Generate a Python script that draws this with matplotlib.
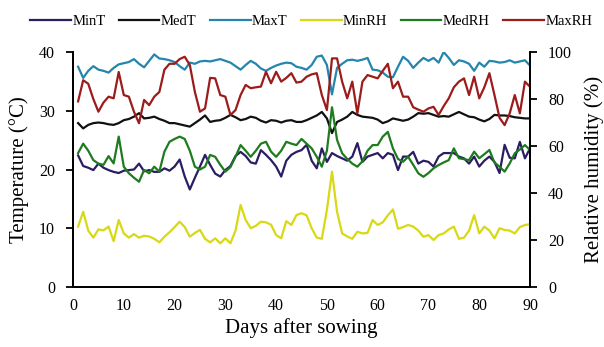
import matplotlib
matplotlib.use("Agg")
import matplotlib.pyplot as plt
import numpy as np

plt.rcParams['font.family'] = ['Liberation Serif', 'DejaVu Serif']

days = list(range(1, 91))

min_t = [22.4, 20.6, 20.3, 19.9, 21.0, 20.3, 19.9, 19.6, 19.4, 19.8,
         19.9, 20.0, 21.0, 19.7, 19.9, 19.6, 19.6, 20.2, 19.8, 20.5,
         21.7, 18.8, 16.6, 18.6, 20.5, 22.5, 20.8, 19.3, 18.8, 19.9,
         20.6, 22.3, 23.0, 22.3, 21.2, 21.0, 23.3, 22.5, 21.6, 20.5,
         18.8, 21.5, 22.5, 23.0, 23.3, 24.2, 21.5, 20.2, 23.6, 21.3,
         22.8, 22.3, 21.9, 21.5, 22.2, 24.5, 21.3, 22.2, 22.5, 22.8,
         21.9, 22.8, 22.5, 19.9, 22.2, 22.2, 23.0, 21.0, 21.5, 21.3,
         20.5, 22.2, 22.8, 22.8, 22.8, 22.2, 21.9, 21.0, 22.2, 20.5,
         21.5, 22.2, 21.3, 19.4, 24.2, 22.0, 21.9, 24.7, 21.9, 23.6]

med_t = [27.9, 27.0, 27.6, 27.9, 28.0, 27.9, 27.7, 27.6, 27.9, 28.4,
         28.6, 29.0, 29.6, 28.7, 28.8, 29.0, 28.6, 28.3, 27.9, 27.9,
         27.7, 27.5, 27.3, 27.9, 28.5, 29.2, 28.1, 28.3, 28.4, 28.8,
         29.3, 28.9, 28.4, 28.6, 29.0, 28.8, 28.3, 28.0, 28.4, 28.3,
         28.0, 28.3, 28.4, 28.1, 28.1, 28.4, 28.8, 29.2, 29.8, 28.7,
         26.2, 28.1, 28.5, 29.0, 29.8, 29.3, 29.0, 28.9, 28.8, 28.5,
         27.9, 28.2, 28.7, 28.5, 28.3, 28.5, 29.0, 29.6, 29.5, 29.6,
         29.3, 29.0, 29.1, 29.0, 29.4, 29.8, 29.4, 29.0, 28.9, 28.5,
         28.2, 28.6, 29.3, 29.2, 29.2, 29.1, 28.9, 28.8, 28.7, 28.7]

max_t = [37.5, 35.6, 36.8, 37.6, 37.0, 36.8, 36.5, 37.3, 37.9, 38.1,
         38.3, 38.8, 38.0, 37.4, 38.5, 39.6, 38.9, 38.8, 38.6, 38.3,
         37.6, 37.0, 38.2, 38.0, 38.4, 38.5, 38.4, 38.6, 38.8, 38.5,
         38.2, 37.6, 37.0, 37.8, 38.5, 38.0, 37.2, 36.8, 37.3, 37.7,
         38.0, 38.2, 38.1, 37.5, 37.3, 37.0, 37.8, 39.2, 39.4, 37.8,
         32.8, 37.3, 38.0, 38.6, 38.7, 38.5, 38.7, 39.0, 37.0, 36.9,
         36.5, 35.8, 35.7, 37.5, 39.2, 38.5, 37.3, 38.2, 39.0, 38.5,
         39.0, 38.2, 40.0, 39.0, 37.8, 38.6, 38.4, 38.0, 36.8, 38.2,
         37.5, 38.5, 38.4, 38.2, 38.3, 38.6, 38.2, 38.4, 38.6, 37.7]

min_rh = [25.7, 32.0, 24.0, 21.0, 24.5, 24.1, 25.7, 19.5, 28.5, 22.8,
          21.0, 22.5, 21.0, 21.8, 21.5, 20.5, 19.0, 21.4, 23.3, 25.5,
          27.8, 25.5, 21.4, 23.0, 24.3, 20.5, 19.0, 20.7, 18.6, 20.7,
          18.6, 24.0, 34.9, 28.5, 25.0, 26.0, 27.8, 27.5, 26.5, 22.1,
          20.7, 28.0, 26.4, 30.6, 31.4, 30.5, 25.0, 21.0, 20.5, 32.8,
          49.1, 32.0, 22.8, 21.5, 20.5, 23.5, 22.8, 23.0, 28.5, 26.4,
          27.5, 30.5, 33.0, 24.8, 25.5, 26.4, 25.7, 24.0, 21.4, 22.1,
          20.0, 22.1, 22.8, 24.5, 25.7, 20.5, 21.0, 24.0, 30.6, 22.8,
          25.7, 24.0, 20.7, 25.0, 24.3, 24.0, 22.8, 25.5, 26.4, 26.7]

med_rh = [57.0, 61.0, 58.0, 54.0, 52.5, 52.0, 55.7, 52.6, 64.0, 51.2,
          48.4, 46.5, 44.8, 49.8, 48.4, 51.2, 49.1, 57.6, 61.8, 63.0,
          64.0, 63.0, 58.0, 51.2, 50.0, 51.2, 56.2, 55.4, 52.0, 49.1,
          51.0, 55.4, 60.4, 58.0, 55.4, 58.0, 61.0, 61.8, 57.6, 55.4,
          58.0, 61.8, 61.0, 60.4, 63.0, 61.0, 59.0, 55.4, 51.2, 58.0,
          76.5, 62.6, 56.9, 54.5, 52.5, 51.2, 53.5, 58.0, 60.4, 60.4,
          64.0, 66.0, 59.0, 54.5, 53.3, 55.4, 52.0, 48.4, 46.9, 48.5,
          50.5, 51.9, 53.0, 54.0, 59.0, 54.8, 54.4, 54.0, 57.6, 54.8,
          56.5, 58.3, 53.0, 51.2, 49.1, 52.6, 56.9, 58.5, 60.4, 58.3]

max_rh = [79.0, 88.0, 86.5, 80.0, 74.6, 78.5, 81.0, 80.3, 91.5, 81.7,
          81.0, 74.6, 69.7, 79.6, 77.4, 81.0, 83.0, 92.5, 95.0, 95.0,
          97.0, 98.0, 94.5, 83.0, 74.6, 76.0, 89.0, 88.8, 81.7, 81.0,
          73.2, 75.3, 81.7, 86.0, 84.6, 85.0, 85.3, 91.6, 86.7, 91.6,
          87.4, 89.0, 91.0, 87.0, 87.4, 89.5, 90.5, 91.0, 81.7, 75.3,
          97.3, 97.3, 87.4, 80.3, 87.4, 73.9, 87.4, 90.2, 89.5, 88.8,
          92.0, 95.0, 84.6, 87.4, 81.0, 81.0, 76.5, 75.5, 74.6, 76.0,
          76.7, 73.2, 77.0, 80.3, 85.0, 87.4, 88.8, 81.7, 89.5, 80.3,
          85.0, 91.0, 81.7, 72.0, 68.9, 73.9, 81.7, 73.9, 87.4, 85.2]

x_ticks = [0, 10, 20, 30, 40, 50, 60, 70, 80, 90]
t_ticks = [0, 10, 20, 30, 40]
rh_ticks = [0, 20, 40, 60, 80, 100]

fig = plt.figure(figsize=(6.04, 3.47), dpi=100)
ax = fig.add_axes([0.1209, 0.173, 0.7566, 0.677])
ax2 = ax.twinx()

lw = 1.6
l1, = ax.plot(days, min_t, color='#2b1d63', lw=lw, label='MinT')
l2, = ax.plot(days, med_t, color='#111111', lw=lw, label='MedT')
l3, = ax.plot(days, max_t, color='#2485ad', lw=lw, label='MaxT')
l4, = ax2.plot(days, min_rh, color='#d8d816', lw=lw, label='MinRH')
l5, = ax2.plot(days, med_rh, color='#1e7b1e', lw=lw, label='MedRH')
l6, = ax2.plot(days, max_rh, color='#9c1b1b', lw=lw, label='MaxRH')

ax.set_xlim(0, 90)
ax.set_ylim(0, 40)
ax2.set_ylim(0, 100)
ax.set_xticks(x_ticks)
ax.set_yticks(t_ticks)
ax2.set_yticks(rh_ticks)

for a in (ax, ax2):
    a.spines['top'].set_visible(False)
    for s in a.spines.values():
        s.set_linewidth(1.3)
        s.set_color('black')
ax.tick_params(axis='y', direction='out', length=5, width=1.3, labelsize=11.5, pad=8)
ax.tick_params(axis='x', length=0, labelsize=11.5, pad=8)
ax2.tick_params(axis='y', direction='out', length=5, width=1.3, labelsize=11.5, pad=8)

ax.set_xlabel('Days after sowing', fontsize=15, labelpad=3)
ax.set_ylabel('Temperature (°C)', fontsize=15, labelpad=7)
ax2.set_ylabel('Relative humidity (%)', fontsize=15, labelpad=9)

fig.legend(handles=[l1, l2, l3, l4, l5, l6], loc='upper center',
           bbox_to_anchor=(0.515, 0.995), ncol=6, frameon=False,
           fontsize=10.5, handlelength=2.8, handletextpad=0.1,
           columnspacing=0.9)

fig.savefig('out.png', dpi=100)
